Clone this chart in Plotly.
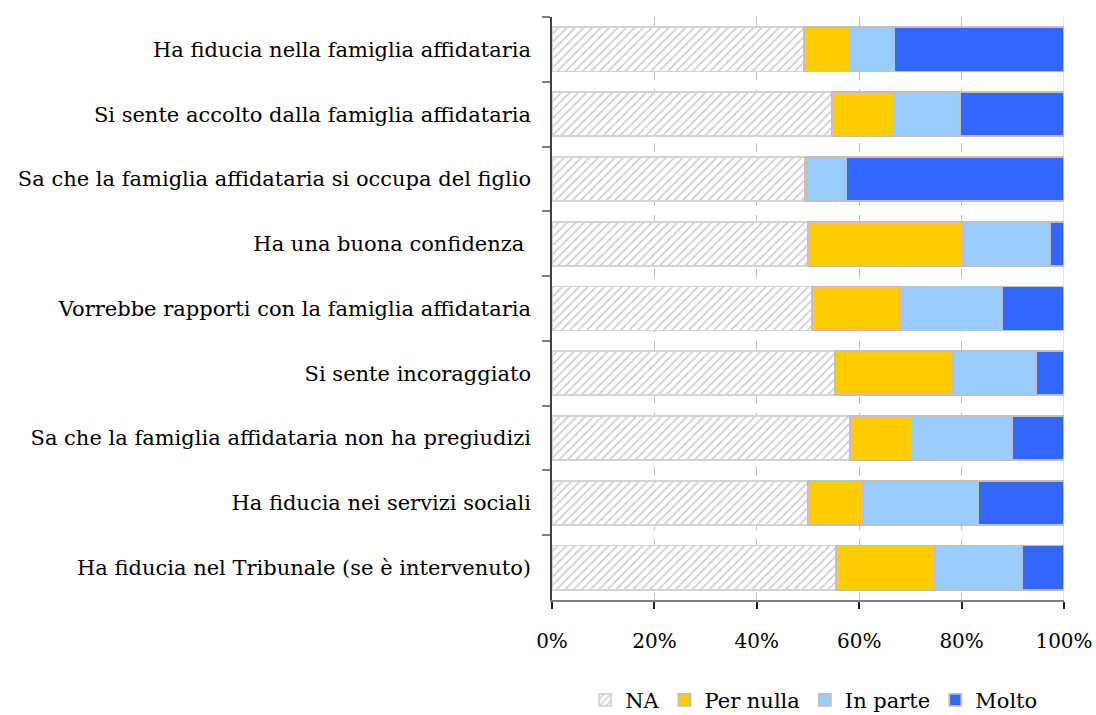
import plotly.graph_objects as go

# Items, listed from top to bottom
categories = [
    "Ha fiducia nella famiglia affidataria",
    "Si sente accolto dalla famiglia affidataria",
    "Sa che la famiglia affidataria si occupa del figlio",
    "Ha una buona confidenza ",
    "Vorrebbe rapporti con la famiglia affidataria",
    "Si sente incoraggiato",
    "Sa che la famiglia affidataria non ha pregiudizi",
    "Ha fiducia nei servizi sociali",
    "Ha fiducia nel Tribunale (se è intervenuto)",
]

# Shares of answers (fractions of 1)
na = [0.492, 0.547, 0.493, 0.500, 0.508, 0.553, 0.582, 0.500, 0.554]
per_nulla = [0.089, 0.120, 0.005, 0.302, 0.174, 0.230, 0.120, 0.108, 0.194]
in_parte = [0.088, 0.130, 0.077, 0.171, 0.197, 0.162, 0.196, 0.225, 0.170]
molto = [0.331, 0.203, 0.425, 0.027, 0.121, 0.055, 0.102, 0.167, 0.082]

tick_vals = [0, 0.2, 0.4, 0.6, 0.8, 1.0]
tick_text = ["0%", "20%", "40%", "60%", "80%", "100%"]

FONT = "DejaVu Serif"
outline = dict(color="#c0c0c0", width=1.8)

fig = go.Figure()
fig.add_trace(go.Bar(
    name="NA", y=categories, x=na, orientation="h",
    marker=dict(
        color="white",
        line=dict(color="#d4d4d4", width=1.8),
        pattern=dict(shape="/", fgcolor="#c8c8c8", bgcolor="white",
                     size=6, solidity=0.25, fillmode="replace"),
    ),
))
fig.add_trace(go.Bar(
    name="Per nulla", y=categories, x=per_nulla, orientation="h",
    marker=dict(color="#ffcc00", line=outline),
))
fig.add_trace(go.Bar(
    name="In parte", y=categories, x=in_parte, orientation="h",
    marker=dict(color="#99ccff", line=outline),
))
fig.add_trace(go.Bar(
    name="Molto", y=categories, x=molto, orientation="h",
    marker=dict(color="#3366ff", line=outline),
))

fig.update_layout(
    barmode="stack",
    bargap=0.32,
    width=1096, height=715,
    margin=dict(l=552, r=32, t=17, b=115, autoexpand=False),
    paper_bgcolor="white",
    plot_bgcolor="white",
    font=dict(family=FONT, size=21, color="black"),
    showlegend=True,
    legend=dict(
        orientation="h", x=0.512, xanchor="center", y=-0.172, yanchor="middle",
        font=dict(family=FONT, size=21), traceorder="normal",
        itemwidth=30,
    ),
    xaxis=dict(
        range=[0, 1], tickvals=tick_vals, ticktext=tick_text,
        showgrid=True, gridcolor="#bfbfbf", gridwidth=1, griddash="dash",
        zeroline=False,
        showline=True, linecolor="#7f7f7f", linewidth=2,
        ticks="outside", ticklen=7, tickcolor="#202020", tickwidth=1.5,
        ticklabelstandoff=15,
        tickfont=dict(family=FONT, size=20),
        fixedrange=True,
    ),
    yaxis=dict(
        categoryorder="array", categoryarray=categories,
        autorange="reversed",
        showgrid=False, zeroline=False,
        showline=True, linecolor="#404040", linewidth=1.5,
        ticks="outside", ticklen=8, tickcolor="#808080", tickwidth=2,
        tickson="boundaries",
        ticklabelstandoff=15,
        tickfont=dict(family=FONT, size=21),
        fixedrange=True,
    ),
    shapes=[dict(
        type="line", xref="x", yref="y domain", x0=1, x1=1, y0=0, y1=1,
        line=dict(color="#c8c8c8", width=1), layer="below",
    )],
)

fig.write_html("out.html")
